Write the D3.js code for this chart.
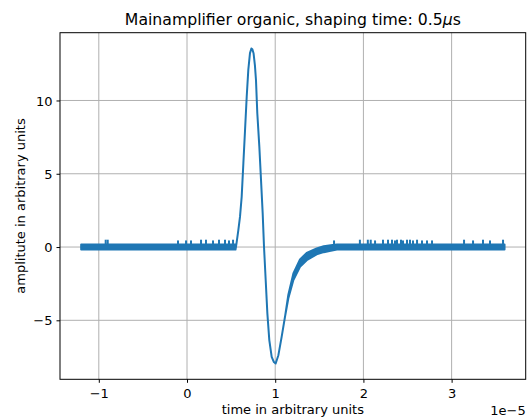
<!DOCTYPE html>
<html>
<head>
<meta charset="utf-8">
<script src="https://cdn.jsdelivr.net/npm/d3@7"></script>
<style>
  html, body { margin: 0; padding: 0; background: #fff; }
  svg { display: block; font-family: "DejaVu Sans", sans-serif; }
</style>
</head>
<body>
<svg id="chart" width="529" height="419"></svg>
<script>
// Time samples in microseconds (axis shows them in units of 1e-5 s).
// traceLow / traceHigh hold the lower and upper edge of the recorded
// trace at each time: equal on the smooth pulse, apart where the
// baseline noise fills a band.
const traceTime = [-12, 5.5, 5.6, 5.82, 6.01, 6.2, 6.39, 6.58, 6.77, 6.95, 7.14, 7.3, 7.41, 7.55, 7.7,
  7.82, 7.97, 8.2, 8.39, 8.58, 8.73, 8.92, 9.11, 9.33, 9.6, 9.85, 10.05, 10.36, 10.73, 11.11, 11.49,
  12.06, 12.81, 13.57, 14.7, 15.5, 16.3, 17.0, 36];
const traceLow = [-0.17, -0.17, 0.2, 1.16, 2.07, 3.44, 5.72, 7.99, 10.27, 12.09, 13.23, 13.55, 13.5, 13.2, 12.4,
  11.4, 9.13, 6.85, 4.58, 2.3, 0.02, -2.25, -4.53, -6.35, -7.49, -7.85, -7.95, -7.38, -6.13, -4.76, -3.5,
  -2.25, -1.35, -0.9, -0.5, -0.35, -0.25, -0.17, -0.17];
const traceHigh = [0.18, 0.18, 0.2, 1.16, 2.07, 3.44, 5.72, 7.99, 10.27, 12.09, 13.23, 13.55, 13.5, 13.2, 12.4,
  11.4, 9.13, 6.85, 4.58, 2.3, 0.02, -2.25, -4.53, -6.35, -7.49, -7.85, -7.95, -7.38, -6.13, -4.76, -3.25,
  -1.8, -0.85, -0.4, -0.1, 0.05, 0.12, 0.18, 0.18];

// Isolated noise spikes sticking out above the baseline band.
const spikeTime = [-9.22, -8.99, -1.02, -0.11, 0.45, 1.59, 2.15, 2.95, 3.63, 4.31, 4.76, 5.22,
  16.67, 19.6, 20.5, 20.83, 21.32, 22.22, 22.79, 23.24, 23.58, 23.81, 24.26, 24.49, 24.94, 25.28,
  25.62, 26.08, 26.64, 27.21, 27.78, 31.41, 32.43, 33.56, 34.35, 35.83];
const spikeValue = [0.5, 0.5, 0.45, 0.45, 0.45, 0.5, 0.5, 0.45, 0.5, 0.5, 0.45, 0.5,
  0.45, 0.5, 0.5, 0.5, 0.45, 0.5, 0.5, 0.5, 0.45, 0.5, 0.5, 0.45, 0.5, 0.5,
  0.45, 0.5, 0.45, 0.45, 0.45, 0.5, 0.45, 0.5, 0.45, 0.5];

const xTicks = [-10, 0, 10, 20, 30];
const xTickLabels = ["\u22121", "0", "1", "2", "3"];
const yTicks = [-5, 0, 5, 10];
const yTickLabels = ["\u22125", "0", "5", "10"];

const titleText = "Mainamplifier organic, shaping time: 0.5";
const xLabel = "time in arbitrary units";
const yLabel = "amplitute in arbitrary units";
const offsetLabel = "1e\u22125";

const svg = d3.select("#chart");
const plot = { left: 60, right: 525.7, top: 32.7, bottom: 379.3 };
const lineColor = "#1f77b4";

// 5% padding around the data, as in the usual autoscale
function padded(lo, hi) {
  const d = (hi - lo) * 0.05;
  return [lo - d, hi + d];
}
const tExt = d3.extent(traceTime);
const vExt = [d3.min(traceLow.concat(spikeValue)), d3.max(traceHigh.concat(spikeValue))];

const x = d3.scaleLinear().domain(padded(tExt[0], tExt[1])).range([plot.left, plot.right]);
const y = d3.scaleLinear().domain(padded(vExt[0], vExt[1])).range([plot.bottom, plot.top]);

// grid
const grid = svg.append("g");
grid.selectAll("line.gx").data(xTicks).join("line")
  .attr("x1", d => x(d)).attr("x2", d => x(d))
  .attr("y1", plot.top).attr("y2", plot.bottom)
  .attr("stroke", "#b0b0b0").attr("stroke-width", 1);
grid.selectAll("line.gy").data(yTicks).join("line")
  .attr("y1", d => y(d)).attr("y2", d => y(d))
  .attr("x1", plot.left).attr("x2", plot.right)
  .attr("stroke", "#b0b0b0").attr("stroke-width", 1);

// trace
const samples = traceTime.map((t, i) => ({ t, lo: traceLow[i], hi: traceHigh[i] }));
const area = d3.area().x(d => x(d.t)).y0(d => y(d.lo)).y1(d => y(d.hi));
svg.append("path")
  .attr("d", area(samples))
  .attr("fill", lineColor)
  .attr("stroke", lineColor)
  .attr("stroke-width", 2)
  .attr("stroke-linejoin", "round");

svg.append("g").selectAll("line").data(spikeTime.map((t, i) => ({ t, v: spikeValue[i] }))).join("line")
  .attr("x1", d => x(d.t)).attr("x2", d => x(d.t))
  .attr("y1", y(0.1)).attr("y2", d => y(d.v))
  .attr("stroke", lineColor).attr("stroke-width", 2);

// axes
const xAxis = d3.axisBottom(x).tickValues(xTicks).tickSize(3.5).tickPadding(3.5)
  .tickFormat((d, i) => xTickLabels[i]);
const yAxis = d3.axisLeft(y).tickValues(yTicks).tickSize(3.5).tickPadding(3.5)
  .tickFormat((d, i) => yTickLabels[i]);

const gx = svg.append("g").attr("transform", `translate(0,${plot.bottom})`).call(xAxis);
const gy = svg.append("g").attr("transform", `translate(${plot.left},0)`).call(yAxis);
[gx, gy].forEach(g => {
  g.select(".domain").remove();
  g.selectAll("line").attr("stroke", "#000").attr("stroke-width", 1);
  g.selectAll("text").attr("fill", "#000").attr("font-size", 13)
    .attr("font-family", "DejaVu Sans, sans-serif");
});
gx.selectAll("text").attr("dy", null).attr("y", 19);
gy.selectAll("text").attr("dy", "0.36em").attr("x", -7.5);

// frame
svg.append("rect")
  .attr("x", plot.left).attr("y", plot.top)
  .attr("width", plot.right - plot.left).attr("height", plot.bottom - plot.top)
  .attr("fill", "none").attr("stroke", "#000").attr("stroke-width", 1);

// labels
const title = svg.append("text").attr("x", (plot.left + plot.right) / 2).attr("y", 25)
  .attr("text-anchor", "middle").attr("font-size", 15.7).attr("fill", "#000");
title.append("tspan").text(titleText);
title.append("tspan").attr("font-style", "italic").text("\u03bc");
title.append("tspan").text("s");

svg.append("text").attr("x", (plot.left + plot.right) / 2).attr("y", 414)
  .attr("text-anchor", "middle").attr("font-size", 13).attr("fill", "#000").text(xLabel);

svg.append("text").attr("x", plot.right).attr("y", 414.5)
  .attr("text-anchor", "end").attr("font-size", 13).attr("fill", "#000").text(offsetLabel);

svg.append("text")
  .attr("transform", `translate(24.5,${(plot.top + plot.bottom) / 2}) rotate(-90)`)
  .attr("text-anchor", "middle").attr("font-size", 13).attr("fill", "#000").text(yLabel);
</script>
</body>
</html>
